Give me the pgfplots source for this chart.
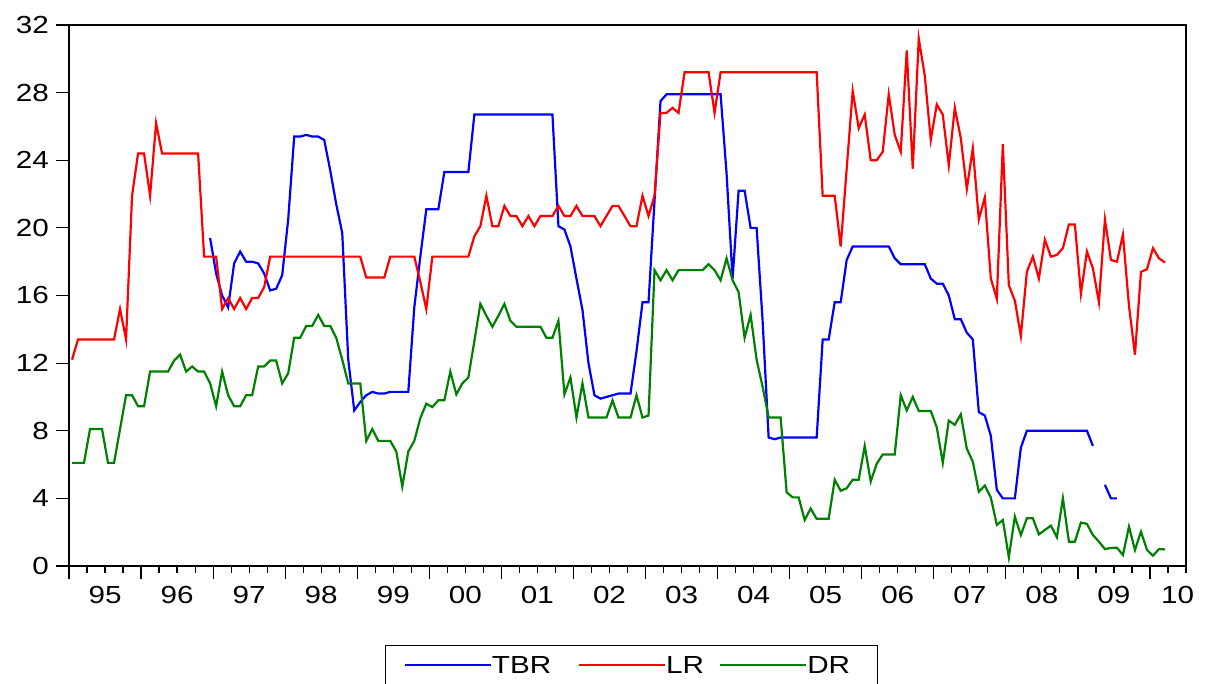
\documentclass[border=0pt]{standalone}
\usepackage{fontspec}
\setmainfont{Liberation Sans}[FakeStretch=1.2]
\usepackage{pgfplots}
\usepackage{pgfplotstable}
\pgfplotsset{compat=1.18}
\pgfplotstableread{
i TBR LR DR
0 nan 12.2 6.1
1 nan 13.4 6.1
2 nan 13.4 6.1
3 nan 13.4 8.1
4 nan 13.4 8.1
5 nan 13.4 8.1
6 nan 13.4 6.1
7 nan 13.4 6.1
8 nan 15.2 8.1
9 nan 13.4 10.1
10 nan 21.9 10.1
11 nan 24.4 9.45
12 nan 24.4 9.45
13 nan 21.9 11.5
14 nan 26.2 11.5
15 nan 24.4 11.5
16 nan 24.4 11.5
17 nan 24.4 12.15
18 nan 24.4 12.5
19 nan 24.4 11.5
20 nan 24.4 11.8
21 nan 24.4 11.5
22 nan 18.3 11.5
23 19.4 18.3 10.8
24 17.3 18.3 9.45
25 16.0 15.2 11.5
26 15.3 15.85 10.1
27 17.9 15.2 9.45
28 18.6 15.85 9.45
29 18.0 15.2 10.1
30 18.0 15.85 10.1
31 17.9 15.85 11.8
32 17.3 16.5 11.8
33 16.3 18.3 12.15
34 16.4 18.3 12.15
35 17.2 18.3 10.8
36 20.5 18.3 11.4
37 25.4 18.3 13.5
38 25.4 18.3 13.5
39 25.5 18.3 14.2
40 25.4 18.3 14.2
41 25.4 18.3 14.85
42 25.2 18.3 14.2
43 23.4 18.3 14.2
44 21.4 18.3 13.5
45 19.7 18.3 12.2
46 12.2 18.3 10.8
47 9.2 18.3 10.8
48 9.7 18.3 10.8
49 10.1 17.06 7.4
50 10.3 17.06 8.1
51 10.2 17.06 7.4
52 10.2 17.06 7.4
53 10.3 18.3 7.4
54 10.3 18.3 6.77
55 10.3 18.3 4.7
56 10.3 18.3 6.77
57 15.3 18.3 7.4
58 18.3 16.8 8.75
59 21.1 15.2 9.6
60 21.1 18.3 9.4
61 21.1 18.3 9.8
62 23.3 18.3 9.8
63 23.3 18.3 11.5
64 23.3 18.3 10.15
65 23.3 18.3 10.8
66 23.3 18.3 11.15
67 26.7 19.5 13.3
68 26.7 20.1 15.5
69 26.7 21.9 14.8
70 26.7 20.1 14.15
71 26.7 20.1 14.8
72 26.7 21.3 15.5
73 26.7 20.7 14.5
74 26.7 20.7 14.15
75 26.7 20.1 14.15
76 26.7 20.7 14.15
77 26.7 20.1 14.15
78 26.7 20.7 14.15
79 26.7 20.7 13.5
80 26.7 20.7 13.5
81 20.1 21.3 14.5
82 19.9 20.7 10.15
83 18.9 20.7 11.15
84 17.0 21.3 8.78
85 15.15 20.7 10.8
86 12.0 20.7 8.78
87 10.1 20.7 8.78
88 9.9 20.1 8.78
89 10.0 20.7 8.78
90 10.1 21.3 9.8
91 10.2 21.3 8.78
92 10.2 20.7 8.78
93 10.2 20.1 8.78
94 12.7 20.1 10.1
95 15.6 21.9 8.78
96 15.6 20.7 8.9
97 21.6 21.9 17.5
98 27.5 26.8 16.9
99 27.9 26.8 17.5
100 27.9 27.1 16.9
101 27.9 26.8 17.5
102 27.9 29.2 17.5
103 27.9 29.2 17.5
104 27.9 29.2 17.5
105 27.9 29.2 17.5
106 27.9 29.2 17.85
107 27.9 26.8 17.5
108 27.9 29.2 16.9
109 23.2 29.2 18.2
110 17.0 29.2 16.9
111 22.2 29.2 16.2
112 22.2 29.2 13.5
113 20.0 29.2 14.85
114 20.0 29.2 12.2
115 14.5 29.2 10.6
116 7.6 29.2 8.78
117 7.5 29.2 8.78
118 7.6 29.2 8.78
119 7.6 29.2 4.36
120 7.6 29.2 4.06
121 7.6 29.2 4.06
122 7.6 29.2 2.72
123 7.6 29.2 3.4
124 7.6 29.2 2.79
125 13.4 21.9 2.79
126 13.4 21.9 2.79
127 15.6 21.9 5.1
128 15.6 18.9 4.45
129 18.1 23.5 4.6
130 18.9 28.1 5.1
131 18.9 25.9 5.1
132 18.9 26.7 7.1
133 18.9 24.0 5.0
134 18.9 24.0 6.05
135 18.9 24.5 6.6
136 18.9 27.9 6.6
137 18.2 25.5 6.6
138 17.85 24.5 10.1
139 17.85 30.5 9.2
140 17.85 23.5 10.0
141 17.85 31.2 9.17
142 17.85 29.0 9.17
143 17.0 25.2 9.17
144 16.7 27.3 8.2
145 16.7 26.7 6.1
146 16.0 23.7 8.6
147 14.6 27.1 8.35
148 14.6 25.3 8.97
149 13.8 22.3 6.94
150 13.4 24.7 6.17
151 9.1 20.5 4.39
152 8.9 21.8 4.76
153 7.7 17.0 4.05
154 4.5 15.8 2.43
155 4.0 24.95 2.72
156 4.0 16.6 0.51
157 4.0 15.7 2.92
158 7.0 13.6 1.83
159 8.0 17.4 2.82
160 8.0 18.3 2.82
161 8.0 17.0 1.87
162 8.0 19.3 2.13
163 8.0 18.3 2.39
164 8.0 18.4 1.70
165 8.0 18.8 4.0
166 8.0 20.2 1.44
167 8.0 20.2 1.44
168 8.0 16.1 2.57
169 8.0 18.6 2.49
170 7.1 17.6 1.83
171 nan 15.6 1.44
172 4.8 20.5 1.0
173 4.0 18.1 1.07
174 4.0 18.0 1.08
175 nan 19.6 0.65
176 nan 15.4 2.33
177 nan 12.5 0.95
178 nan 17.4 2.03
179 nan 17.55 0.95
180 nan 18.8 0.61
181 nan 18.2 1.0
182 nan 17.95 0.98
}\datatable

\begin{document}
\begin{tikzpicture}
\begin{axis}[
  scale only axis, width=558.5pt, height=270.5pt,
  xmin=-0.5, xmax=185.5, ymin=0, ymax=32,
  axis line style={line width=0.9pt},
  /pgf/number format/assume math mode=true,
  tick label style={font=\fontsize{12.35pt}{14pt}\selectfont, black},
  xticklabel style={yshift=-6.5pt},
  tick align=outside, tick pos=left,
  ytick={0,4,...,32},
  xtick={-0.5,11.5,...,179.5},
  xticklabels={},
  minor xtick={-0.5,2.5,...,185.5},
  major tick length=6.5pt, minor tick length=3.5pt,
  tick style={black, line width=0.6pt},
  extra x ticks={5.5,17.5,29.5,41.5,53.5,65.5,77.5,89.5,101.5,113.5,125.5,137.5,149.5,161.5,173.5,184.1},
  extra x tick labels={95,96,97,98,99,00,01,02,03,04,05,06,07,08,09,10},
  extra x tick style={major tick length=0pt},
  unbounded coords=jump,
  legend columns=3,
  legend cell align=left,
  legend style={at={(0,0)}, anchor=north west, xshift=158pt, yshift=-39.5pt,
    draw=black, line width=0.7pt, fill=white,
    inner xsep=9pt, inner ysep=5.5pt,
    nodes={inner sep=0pt, text depth=0pt},
    column sep=0pt,
    font=\fontsize{12.35pt}{14pt}\selectfont},
  legend image code/.code={\draw[#1] (0pt,0pt) -- (35pt,0pt); \path (0pt,0pt) -- (43pt,0pt);},
  every axis plot/.append style={line width=1.1pt, mark=none},
]
\addplot[color={rgb,255:red,0;green,0;blue,255}] table[x=i,y=TBR]{\datatable};
\addlegendentry{\makebox[43pt][l]{TBR}}
\addplot[color={rgb,255:red,255;green,0;blue,0}] table[x=i,y=LR]{\datatable};
\addlegendentry{\makebox[26.5pt][l]{LR}}
\addplot[color={rgb,255:red,0;green,128;blue,0}] table[x=i,y=DR]{\datatable};
\addlegendentry{\makebox[26pt][l]{DR}}
\end{axis}
\pgfresetboundingbox
\path[use as bounding box] ([xshift=-34.5pt,yshift=-59pt]current axis.south west) rectangle ([xshift=9.5pt,yshift=12.5pt]current axis.north east);
\end{tikzpicture}
\end{document}
